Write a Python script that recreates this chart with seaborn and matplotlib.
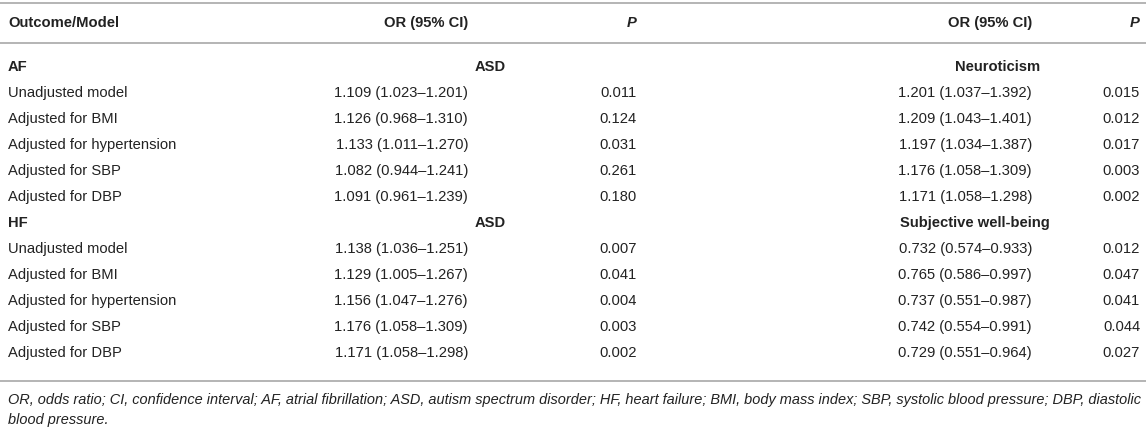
import matplotlib
matplotlib.use("Agg")
import matplotlib.pyplot as plt
import seaborn as sns

# ---------------- data ----------------
header = ["Outcome/Model", "OR (95% CI)", "P", "OR (95% CI)", "P"]
outcomes = ["AF", "HF"]
exposures_left = ["ASD", "ASD"]
exposures_right = ["Neuroticism", "Subjective well-being"]
models = ["Unadjusted model", "Adjusted for BMI", "Adjusted for hypertension",
          "Adjusted for SBP", "Adjusted for DBP"]

af_asd_or = [1.109, 1.126, 1.133, 1.082, 1.091]
af_asd_lo = [1.023, 0.968, 1.011, 0.944, 0.961]
af_asd_hi = [1.201, 1.310, 1.270, 1.241, 1.239]
af_asd_p = [0.011, 0.124, 0.031, 0.261, 0.180]

af_neu_or = [1.201, 1.209, 1.197, 1.176, 1.171]
af_neu_lo = [1.037, 1.043, 1.034, 1.058, 1.058]
af_neu_hi = [1.392, 1.401, 1.387, 1.309, 1.298]
af_neu_p = [0.015, 0.012, 0.017, 0.003, 0.002]

hf_asd_or = [1.138, 1.129, 1.156, 1.176, 1.171]
hf_asd_lo = [1.036, 1.005, 1.047, 1.058, 1.058]
hf_asd_hi = [1.251, 1.267, 1.276, 1.309, 1.298]
hf_asd_p = [0.007, 0.041, 0.004, 0.003, 0.002]

hf_swb_or = [0.732, 0.765, 0.737, 0.742, 0.729]
hf_swb_lo = [0.574, 0.586, 0.551, 0.554, 0.551]
hf_swb_hi = [0.933, 0.997, 0.987, 0.991, 0.964]
hf_swb_p = [0.012, 0.047, 0.041, 0.044, 0.027]

footnote = [
    "OR, odds ratio; CI, confidence interval; AF, atrial fibrillation; ASD, autism spectrum disorder; "
    "HF, heart failure; BMI, body mass index; SBP, systolic blood pressure; DBP, diastolic",
    "blood pressure.",
]

# ---------------- style ----------------
sns.set_theme(style="white")
plt.rcParams["font.family"] = ["Liberation Sans", "DejaVu Sans"]
FS = 10.6
FS_NOTE = 10.45
TXT = "#222222"
LINE = "#b4b4b4"

W, H = 1146, 428
fig = plt.figure(figsize=(W / 100, H / 100), dpi=100)
ax = fig.add_axes([0, 0, 1, 1])
ax.set_xlim(0, W)
ax.set_ylim(H, 0)
ax.axis("off")

# column anchors (pixels)
X_LABEL = 8
X_OR1 = 468
X_P1 = 637
X_OR2 = 1032
X_P2 = 1140
X_GRP1 = 490
X_GRP2 = 998
X_GRP2b = 975

def fmt_or(o, l, h):
    return f"{o:.3f} ({l:.3f}\u2013{h:.3f})"

# rules
for y in (3, 43, 381):
    ax.plot([0, W], [y, y], color=LINE, lw=1.4, solid_capstyle="butt")

# header
yh = 23
ax.text(X_LABEL, yh, header[0], ha="left", va="center", fontsize=FS, fontweight="bold", color=TXT)
ax.text(X_OR1, yh, header[1], ha="right", va="center", fontsize=FS, fontweight="bold", color=TXT)
ax.text(X_P1, yh, header[2], ha="right", va="center", fontsize=FS, fontweight="bold", style="italic", color=TXT)
ax.text(X_OR2, yh, header[3], ha="right", va="center", fontsize=FS, fontweight="bold", color=TXT)
ax.text(X_P2, yh, header[4], ha="right", va="center", fontsize=FS, fontweight="bold", style="italic", color=TXT)

blocks = [
    (af_asd_or, af_asd_lo, af_asd_hi, af_asd_p, af_neu_or, af_neu_lo, af_neu_hi, af_neu_p),
    (hf_asd_or, hf_asd_lo, hf_asd_hi, hf_asd_p, hf_swb_or, hf_swb_lo, hf_swb_hi, hf_swb_p),
]

y0 = 67
step = 26
row = 0
for b, (oc, el, er, blk) in enumerate(zip(outcomes, exposures_left, exposures_right, blocks)):
    y = y0 + step * row
    ax.text(X_LABEL, y, oc, ha="left", va="center", fontsize=FS, fontweight="bold", color=TXT)
    ax.text(X_GRP1, y, el, ha="center", va="center", fontsize=FS, fontweight="bold", color=TXT)
    ax.text(X_GRP2 if b == 0 else X_GRP2b, y, er, ha="center", va="center",
            fontsize=FS, fontweight="bold", color=TXT)
    row += 1
    o1, l1, h1, p1, o2, l2, h2, p2 = blk
    for i, m in enumerate(models):
        y = y0 + step * row
        ax.text(X_LABEL, y, m, ha="left", va="center", fontsize=FS, color=TXT)
        ax.text(X_OR1, y, fmt_or(o1[i], l1[i], h1[i]), ha="right", va="center", fontsize=FS, color=TXT)
        ax.text(X_P1, y, f"{p1[i]:.3f}", ha="right", va="center", fontsize=FS, color=TXT)
        ax.text(X_OR2, y, fmt_or(o2[i], l2[i], h2[i]), ha="right", va="center", fontsize=FS, color=TXT)
        ax.text(X_P2, y, f"{p2[i]:.3f}", ha="right", va="center", fontsize=FS, color=TXT)
        row += 1

for k, line in enumerate(footnote):
    ax.text(X_LABEL, 400 + 20 * k, line, ha="left", va="center", fontsize=FS_NOTE,
            style="italic", color=TXT)

fig.savefig("out.png", dpi=100)
